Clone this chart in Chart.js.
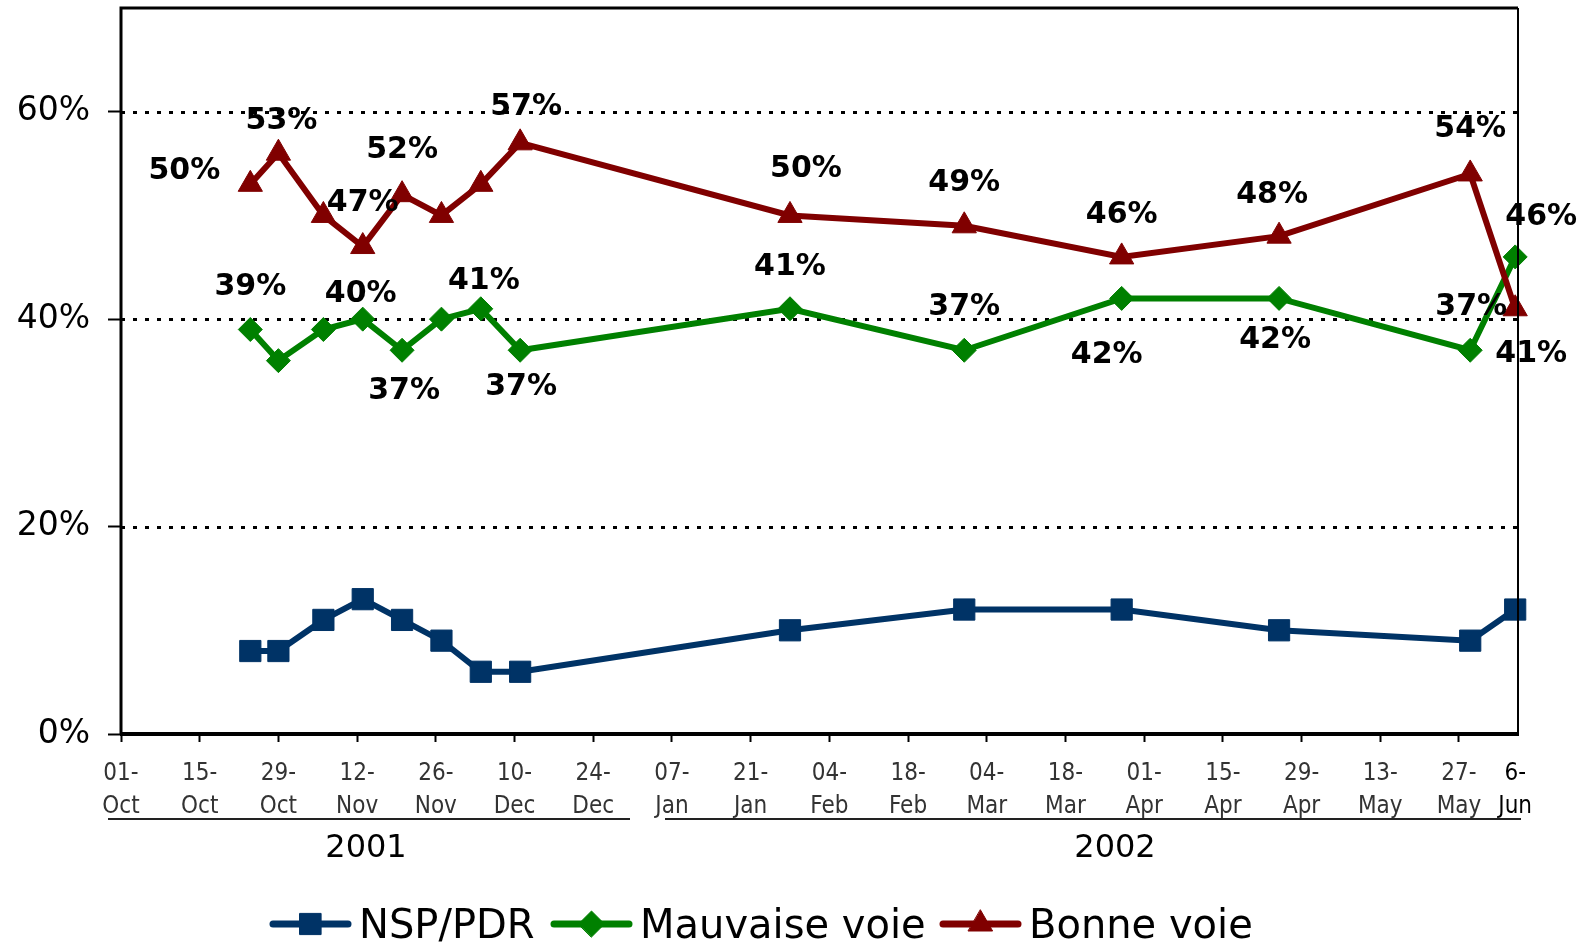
<!DOCTYPE html>
<html>
<head>
<meta charset="utf-8">
<script src="https://cdn.jsdelivr.net/npm/chart.js@4.4.1/dist/chart.umd.min.js"></script>
<style>
  html, body { margin: 0; padding: 0; background: #fff; }
  #wrap { width: 1593px; height: 944px; }
</style>
</head>
<body>
<div id="wrap"><canvas id="chart" width="1593" height="944"></canvas></div>
<script>
const surveyDates = ['2001-10-24', '2001-10-29', '2001-11-06', '2001-11-13', '2001-11-20', '2001-11-27', '2001-12-04',
  '2001-12-11', '2002-01-28', '2002-02-28', '2002-03-28', '2002-04-25', '2002-05-29', '2002-06-06'];
const nspPdr = [8, 8, 11, 13, 11, 9, 6, 6, 10, 12, 12, 10, 9, 12];
const mauvaiseVoie = [39, 36, 39, 40, 37, 40, 41, 37, 41, 37, 42, 42, 37, 46];
const bonneVoie = [53, 56, 50, 47, 52, 50, 53, 57, 50, 49, 46, 48, 54, 41];

// value labels as printed on the original chart (null = no label)
const mauvaiseLabels = ['39%', null, null, '40%', '37%', null, '41%', '37%', '41%', '37%', '42%', '42%', '37%', '46%'];
const bonneLabels = ['50%', '53%', null, '47%', '52%', null, null, '57%', '50%', '49%', '46%', '48%', '54%', '41%'];

const tickDates = ['2001-10-01', '2001-10-15', '2001-10-29', '2001-11-12', '2001-11-26', '2001-12-10', '2001-12-24',
  '2002-01-07', '2002-01-21', '2002-02-04', '2002-02-18', '2002-03-04', '2002-03-18', '2002-04-01', '2002-04-15',
  '2002-04-29', '2002-05-13', '2002-05-27', '2002-06-06'];
const tickLabels = [['01-', 'Oct'], ['15-', 'Oct'], ['29-', 'Oct'], ['12-', 'Nov'], ['26-', 'Nov'], ['10-', 'Dec'],
  ['24-', 'Dec'], ['07-', 'Jan'], ['21-', 'Jan'], ['04-', 'Feb'], ['18-', 'Feb'], ['04-', 'Mar'], ['18-', 'Mar'],
  ['01-', 'Apr'], ['15-', 'Apr'], ['29-', 'Apr'], ['13-', 'May'], ['27-', 'May'], ['6-', 'Jun']];
const yearLabels = ['2001', '2002'];
const seriesNames = ['NSP/PDR', 'Mauvaise voie', 'Bonne voie'];

const colors = { nsp: '#003366', mauvaise: '#008000', bonne: '#800000' };
const FONT = '"DejaVu Sans"';
const NARROW = '"DejaVu Sans Condensed", "DejaVu Sans"';

// label nudges in px (dx, dy from the point), as placed in the original
const bonneOffsets = [[-66, -16], [3, -35], null, [0, -47], [0, -48], null, null, [6, -39], [16, -49], [0, -46],
  [0, -45], [-7, -44], [0, -48], [16, 42]];
const mauvaiseOffsets = [[0, -46], null, null, [-2, -28], [2, 38], null, [3, -31], [1, 34], [0, -45], [0, -46],
  [-15, 54], [-4, 39], [1, -46], [26, -43]];

const toDay = (s) => {
  const [y, m, d] = s.split('-').map(Number);
  const [y0, m0, d0] = tickDates[0].split('-').map(Number);
  return (Date.UTC(y, m - 1, d) - Date.UTC(y0, m0 - 1, d0)) / 86400000;
};
const xs = surveyDates.map(toDay);
const points = (vals) => vals.map((v, i) => ({ x: xs[i], y: v }));
const tickDays = tickDates.map(toDay);
const lastTick = tickDays.length - 1;

const decorations = {
  id: 'decorations',
  beforeDatasetsDraw(chart) {
    const { ctx, chartArea, scales } = chart;
    ctx.save();
    ctx.strokeStyle = '#000';
    ctx.lineWidth = 3;
    ctx.setLineDash([4, 8]);
    [20, 40, 60].forEach((v) => {
      const y = Math.round(scales.y.getPixelForValue(v)) + 0.5;
      ctx.beginPath();
      ctx.moveTo(chartArea.left, y);
      ctx.lineTo(chartArea.right, y);
      ctx.stroke();
    });
    ctx.restore();
  },
  afterDatasetsDraw(chart) {
    const { ctx, chartArea } = chart;
    ctx.save();

    // value labels
    ctx.font = `bold 30px ${FONT}`;
    ctx.fillStyle = '#000';
    ctx.textAlign = 'center';
    ctx.textBaseline = 'alphabetic';
    const drawLabels = (dsIndex, labels, offsets) => {
      const meta = chart.getDatasetMeta(dsIndex);
      labels.forEach((txt, i) => {
        if (!txt) return;
        const p = meta.data[i];
        const [dx, dy] = offsets[i];
        ctx.fillText(txt, p.x + dx, p.y + dy + 11);
      });
    };
    drawLabels(1, mauvaiseLabels, mauvaiseOffsets);
    drawLabels(2, bonneLabels, bonneOffsets);

    // plot frame
    ctx.strokeStyle = '#000';
    ctx.setLineDash([]);
    ctx.lineWidth = 3;
    ctx.beginPath();
    ctx.moveTo(chartArea.left, chartArea.bottom);
    ctx.lineTo(chartArea.left, chartArea.top);
    ctx.lineTo(chartArea.right, chartArea.top);
    ctx.stroke();
    ctx.lineWidth = 2;
    ctx.beginPath();
    ctx.moveTo(chartArea.right, chartArea.top);
    ctx.lineTo(chartArea.right, chartArea.bottom);
    ctx.stroke();
    ctx.lineWidth = 4;
    ctx.beginPath();
    ctx.moveTo(chartArea.left - 1, chartArea.bottom);
    ctx.lineTo(chartArea.right + 1, chartArea.bottom);
    ctx.stroke();

    // year brackets under the date axis
    ctx.strokeStyle = '#222';
    ctx.lineWidth = 2;
    [[108, 630], [665, 1521]].forEach(([a, b]) => {
      ctx.beginPath();
      ctx.moveTo(a, 819);
      ctx.lineTo(b, 819);
      ctx.stroke();
    });
    ctx.font = `32px ${FONT}`;
    ctx.fillStyle = '#000';
    ctx.textBaseline = 'middle';
    ctx.fillText(yearLabels[0], 366, 849);
    ctx.fillText(yearLabels[1], 1115, 849);

    // legend
    const items = [
      { x: 273, color: colors.nsp, style: 'rect', r: 15 },
      { x: 554, color: colors.mauvaise, style: 'rectRot', r: 13 },
      { x: 943, color: colors.bonne, style: 'triangle', r: 14 },
    ];
    const ly = 924;
    ctx.font = `40px ${FONT}`;
    ctx.textAlign = 'left';
    ctx.textBaseline = 'alphabetic';
    items.forEach((it, i) => {
      ctx.strokeStyle = it.color;
      ctx.lineWidth = 7;
      ctx.lineCap = 'round';
      ctx.beginPath();
      ctx.moveTo(it.x, ly);
      ctx.lineTo(it.x + 75, ly);
      ctx.stroke();
      ctx.fillStyle = it.color;
      ctx.lineWidth = 1;
      Chart.helpers.drawPoint(ctx, { pointStyle: it.style, radius: it.r, borderWidth: 1, rotation: 0 }, it.x + 37.5, ly);
      ctx.fillStyle = '#000';
      ctx.fillText(seriesNames[i], it.x + 86, ly + 14);
    });
    ctx.restore();
  },
};

const lineSet = (label, data, color, style, radius, order) => ({
  label,
  data: points(data),
  borderColor: color,
  backgroundColor: color,
  borderWidth: 6,
  pointStyle: style,
  pointRadius: radius,
  pointBorderWidth: 1,
  pointBackgroundColor: color,
  pointBorderColor: color,
  tension: 0,
  clip: false,
  order,
});

new Chart(document.getElementById('chart'), {
  type: 'line',
  data: {
    datasets: [
      lineSet(seriesNames[0], nspPdr, colors.nsp, 'rect', 15, 2),
      lineSet(seriesNames[1], mauvaiseVoie, colors.mauvaise, 'rectRot', 12, 1),
      lineSet(seriesNames[2], bonneVoie, colors.bonne, 'triangle', 14, 0),
    ],
  },
  options: {
    responsive: false,
    animation: false,
    devicePixelRatio: 1,
    layout: { autoPadding: false, padding: { top: 8, right: 75, left: 0, bottom: 0 } },
    plugins: {
      legend: { display: false },
      tooltip: { enabled: false },
    },
    scales: {
      x: {
        type: 'linear',
        min: 0,
        max: tickDays[lastTick] + 0.5,
        afterFit: (scale) => {
          scale.height = 210;
          scale.paddingLeft = 0;
          scale.paddingRight = 0;
        },
        afterBuildTicks: (scale) => { scale.ticks = tickDays.map((v) => ({ value: v })); },
        border: { display: false },
        grid: {
          drawOnChartArea: false,
          drawTicks: true,
          tickLength: 8,
          tickWidth: 2,
          tickColor: (c) => (c.index === lastTick ? 'rgba(0,0,0,0)' : '#000'),
        },
        ticks: {
          autoSkip: false,
          maxRotation: 0,
          minRotation: 0,
          padding: 15,
          color: (c) => (c.index === lastTick ? '#000' : '#333'),
          font: { family: NARROW, size: 24, lineHeight: 1.38 },
          callback: (v, i) => tickLabels[i],
        },
      },
      y: {
        min: 0,
        max: 70,
        afterFit: (scale) => {
          scale.width = 121;
          scale.paddingTop = 0;
          scale.paddingBottom = 0;
        },
        border: { display: false },
        grid: {
          drawOnChartArea: false,
          drawTicks: true,
          tickLength: 13,
          tickWidth: 2,
          tickColor: '#000',
        },
        ticks: {
          stepSize: 20,
          includeBounds: false,
          padding: 18,
          color: '#000',
          font: { family: FONT, size: 33 },
          callback: (v) => `${v}%`,
        },
      },
    },
  },
  plugins: [decorations],
});
</script>
</body>
</html>
